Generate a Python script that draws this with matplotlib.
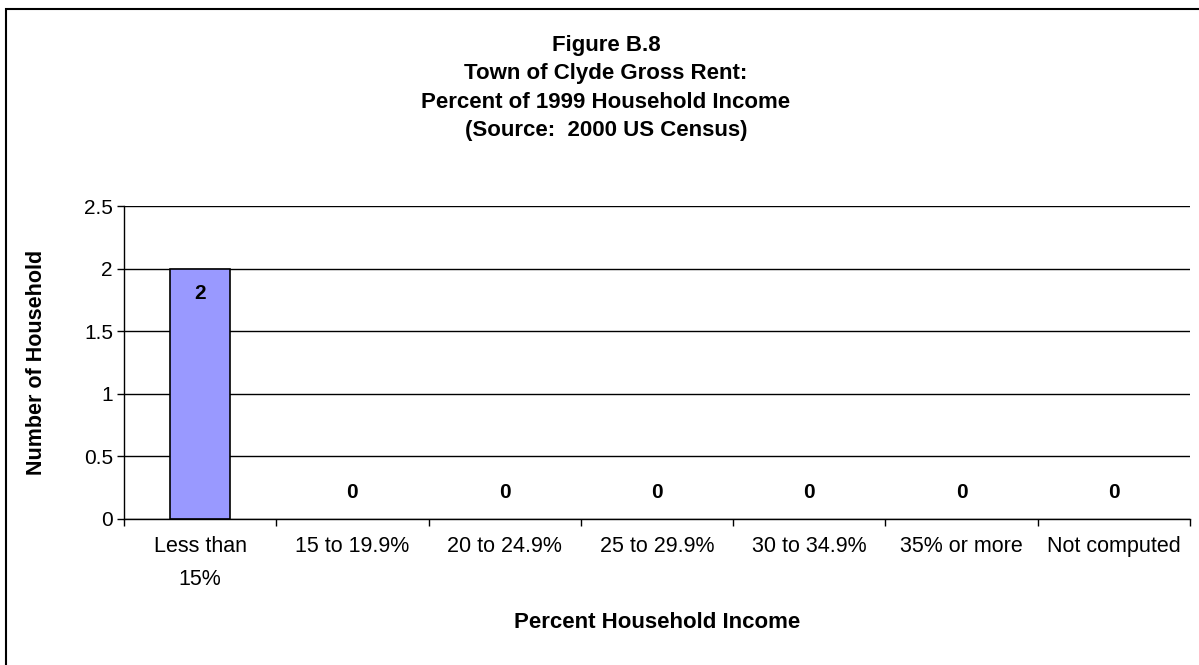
import numpy as np
import matplotlib
matplotlib.use('Agg')
import matplotlib.pyplot as plt
from matplotlib.patches import Rectangle

plt.rcParams['font.family'] = ['Liberation Sans', 'DejaVu Sans']

# data
categories = ['Less than\n15%', '15 to 19.9%', '20 to 24.9%', '25 to 29.9%',
              '30 to 34.9%', '35% or more', 'Not computed']
households = [2, 0, 0, 0, 0, 0, 0]
y_ticks = [0, 0.5, 1, 1.5, 2, 2.5]
y_tick_labels = ['0', '0.5', '1', '1.5', '2', '2.5']

title_lines = ['Figure B.8', 'Town of Clyde Gross Rent:',
               'Percent of 1999 Household Income', '(Source:  2000 US Census)']

W, H = 1199, 665
fig = plt.figure(figsize=(W / 100, H / 100), dpi=100)
fig.patch.set_facecolor('white')

# outer chart border (right/bottom edges fall outside the picture)
fig.patches.append(Rectangle((6 / W, -0.05), 1.1, 1 - 9 / H + 0.05,
                             transform=fig.transFigure, fill=False,
                             edgecolor='black', linewidth=1.5))

ax = fig.add_axes([124 / W, 1 - 519 / H, (1190 - 124) / W, (519 - 206) / H])

x = np.arange(len(categories))
ax.bar(x, households, width=0.39, color='#9999FF', edgecolor='black',
       linewidth=[1.2 if v else 0 for v in households], zorder=3)

for xi, v in zip(x, households):
    dy = -25 if v > 0 else 26
    ax.annotate(str(v), (xi, v), xytext=(0, dy), textcoords='offset pixels',
                ha='center', va='center', fontsize=15, fontweight='bold')

ax.set_xlim(-0.5, len(categories) - 0.5)
ax.set_ylim(0, 2.5)
ax.set_yticks(y_ticks)
ax.set_yticklabels(y_tick_labels, fontsize=15)
ax.set_xticks(x)
ax.set_xticklabels(categories, fontsize=15.5, linespacing=1.8)
ax.set_xticks(np.arange(-0.5, len(categories)), minor=True)
ax.tick_params(axis='x', which='major', length=0, pad=12)
ax.tick_params(axis='x', which='minor', length=5, width=1, direction='out')
ax.tick_params(axis='y', length=5, width=1, direction='out', pad=3)

ax.yaxis.grid(True, color='black', linewidth=1, zorder=0)
ax.set_axisbelow(True)
for s in ['top', 'right']:
    ax.spines[s].set_visible(False)
for s in ['left', 'bottom']:
    ax.spines[s].set_linewidth(1)
    ax.spines[s].set_zorder(4)

ax.set_ylabel('Number of Household', fontsize=15.5, fontweight='bold')
ax.yaxis.set_label_coords((47 - 124) / (1190 - 124), 0.5)
ax.set_xlabel('Percent Household Income', fontsize=16, fontweight='bold', va='center')
ax.xaxis.set_label_coords(0.5, (519 - 623) / (519 - 206))

for i, line in enumerate(title_lines):
    fig.text(606 / W, 1 - (45 + 28.6 * i) / H, line, ha='center', va='center',
             fontsize=16, fontweight='bold')

fig.savefig('out.png', dpi=100, facecolor='white')
